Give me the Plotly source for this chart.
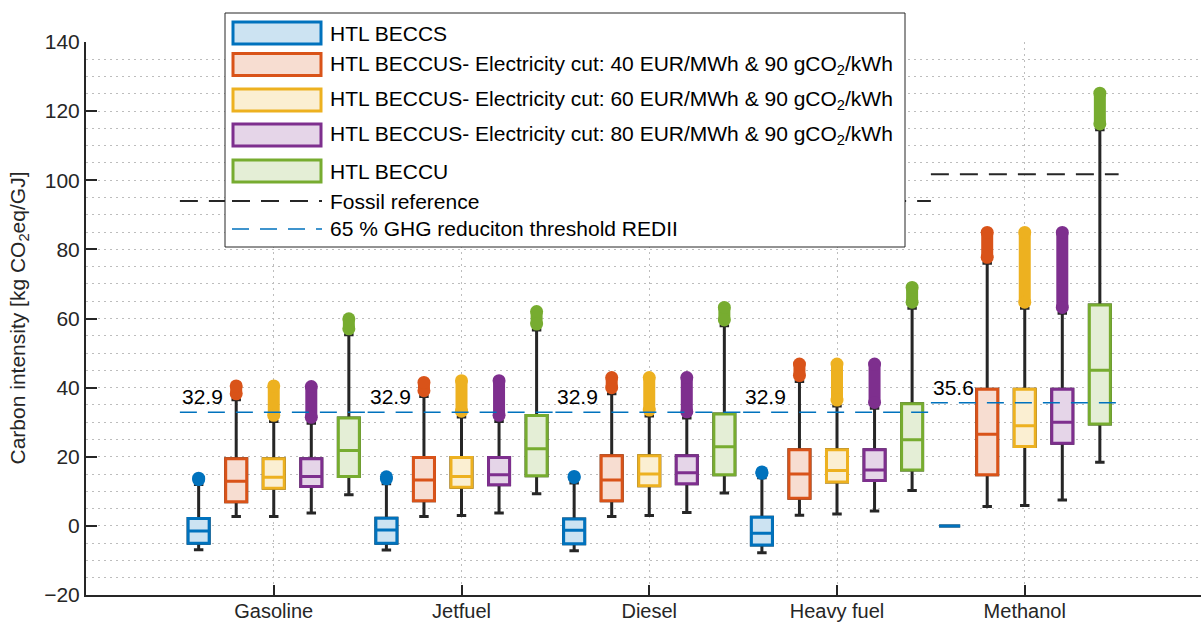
import plotly.graph_objects as go

# ---------------- data ----------------
categories = ["Gasoline", "Jetfuel", "Diesel", "Heavy fuel", "Methanol"]

series_names = [
    "HTL BECCS",
    "HTL BECCUS- Electricity cut: 40 EUR/MWh & 90 gCO<sub>2</sub>/kWh",
    "HTL BECCUS- Electricity cut: 60 EUR/MWh & 90 gCO<sub>2</sub>/kWh",
    "HTL BECCUS- Electricity cut: 80 EUR/MWh & 90 gCO<sub>2</sub>/kWh",
    "HTL BECCU",
]

# per series: values for [Gasoline, Jetfuel, Diesel, Heavy fuel, Methanol]
beccs_lf  = [-6.9, -7.0, -7.2, -7.8, 0.0]
beccs_q1  = [-5.0, -5.0, -5.2, -5.5, 0.0]
beccs_med = [-1.5, -1.2, -1.3, -2.1, 0.0]
beccs_q3  = [2.1, 2.2, 2.0, 2.5, 0.0]
beccs_uf  = [12.0, 12.2, 12.4, 13.9, 0.0]
beccs_out_lo = [13.4, 13.6, 14.0, 15.2, None]
beccs_out_hi = [13.8, 14.2, 14.3, 15.6, None]

e40_lf  = [2.7, 2.7, 2.7, 3.1, 5.6]
e40_q1  = [7.0, 7.3, 7.3, 8.0, 14.8]
e40_med = [12.9, 13.3, 13.3, 15.0, 26.5]
e40_q3  = [19.4, 19.8, 20.3, 22.0, 39.5]
e40_uf  = [36.5, 37.4, 38.2, 41.8, 76.0]
e40_out_lo = [38.2, 39.1, 40.0, 43.5, 77.7]
e40_out_hi = [40.5, 41.5, 42.9, 46.8, 84.9]

e60_lf  = [2.7, 3.0, 3.0, 3.4, 5.9]
e60_q1  = [10.9, 11.2, 11.6, 12.7, 23.0]
e60_med = [14.1, 14.3, 15.0, 16.0, 29.0]
e60_q3  = [19.4, 19.8, 20.3, 22.0, 39.5]
e60_uf  = [30.2, 31.5, 31.8, 34.7, 63.0]
e60_out_lo = [32.0, 33.2, 33.5, 36.4, 64.7]
e60_out_hi = [40.5, 42.0, 42.9, 46.8, 84.9]

e80_lf  = [3.7, 3.7, 3.9, 4.3, 7.5]
e80_q1  = [11.4, 11.9, 12.2, 13.1, 23.9]
e80_med = [14.3, 14.8, 15.4, 16.2, 30.0]
e80_q3  = [19.4, 19.8, 20.3, 22.0, 39.5]
e80_uf  = [29.7, 30.2, 31.2, 34.0, 61.5]
e80_out_lo = [31.4, 32.0, 33.0, 35.7, 63.2]
e80_out_hi = [40.3, 42.0, 42.9, 46.8, 84.9]

beccu_lf  = [9.0, 9.3, 9.5, 10.2, 18.4]
beccu_q1  = [14.3, 14.5, 14.8, 16.2, 29.5]
beccu_med = [21.8, 22.3, 22.9, 24.9, 45.0]
beccu_q3  = [31.2, 31.9, 32.4, 35.3, 63.9]
beccu_uf  = [55.3, 56.7, 57.9, 63.0, 114.6]
beccu_out_lo = [57.0, 58.4, 59.6, 64.7, 116.3]
beccu_out_hi = [59.9, 62.0, 63.2, 69.0, 125.2]

fossil_ref = [94.0, 94.0, 94.0, 94.0, 101.7]
threshold = [32.9, 32.9, 32.9, 32.9, 35.6]
threshold_labels = ["32.9", "32.9", "32.9", "32.9", "35.6"]

y_ticks = [-20, 0, 20, 40, 60, 80, 100, 120, 140]

# ---------------- styling ----------------
colors = ["#0072BD", "#D95319", "#EDB120", "#7E2F8E", "#77AC30"]
fills = ["#CCE3F2", "#F7DDD1", "#FBEFD2", "#E5D5E8", "#E4EED6"]
offsets = [-0.4, -0.2, 0.0, 0.2, 0.4]
BOXW = 0.112
DARK = "#262626"
GRID = "#bdbdbd"
GDASH = "2px,4px"
FONT = "Liberation Sans, Arial, sans-serif"
FS = 21

stats = [
    (beccs_lf, beccs_q1, beccs_med, beccs_q3, beccs_uf, beccs_out_lo, beccs_out_hi),
    (e40_lf, e40_q1, e40_med, e40_q3, e40_uf, e40_out_lo, e40_out_hi),
    (e60_lf, e60_q1, e60_med, e60_q3, e60_uf, e60_out_lo, e60_out_hi),
    (e80_lf, e80_q1, e80_med, e80_q3, e80_uf, e80_out_lo, e80_out_hi),
    (beccu_lf, beccu_q1, beccu_med, beccu_q3, beccu_uf, beccu_out_lo, beccu_out_hi),
]

cat_pos = [i + 1 for i in range(len(categories))]

fig = go.Figure()

# outlier clouds
for s, (lf, q1, med, q3, uf, olo, ohi) in enumerate(stats):
    xs, ys = [], []
    for g, p in enumerate(cat_pos):
        if olo[g] is None:
            continue
        xs += [p + offsets[s], p + offsets[s], None]
        ys += [olo[g], ohi[g], None]
    fig.add_trace(go.Scatter(
        x=xs, y=ys, mode="lines+markers",
        line=dict(color=colors[s], width=12),
        marker=dict(color=colors[s], size=13),
        showlegend=False, hoverinfo="skip"))

# whisker boxes (dark)
for s, (lf, q1, med, q3, uf, olo, ohi) in enumerate(stats):
    fig.add_trace(go.Box(
        x=[p + offsets[s] for p in cat_pos],
        lowerfence=lf, q1=q1, median=med, q3=q3, upperfence=uf,
        width=BOXW, whiskerwidth=0.45,
        line=dict(color=DARK, width=3),
        fillcolor="rgba(0,0,0,0)", boxpoints=False,
        showlegend=False, hoverinfo="skip"))

# coloured boxes on top
for s, (lf, q1, med, q3, uf, olo, ohi) in enumerate(stats):
    fig.add_trace(go.Box(
        x=[p + offsets[s] for p in cat_pos],
        lowerfence=q1, q1=q1, median=med, q3=q3, upperfence=q3,
        width=BOXW, whiskerwidth=0,
        line=dict(color=colors[s], width=3),
        fillcolor=fills[s], boxpoints=False,
        name=series_names[s], showlegend=False, hoverinfo="skip"))

# reference lines per group
fx, fy, tx, ty = [], [], [], []
for g, p in enumerate(cat_pos):
    fx += [p - 0.5, p + 0.5, None]
    fy += [fossil_ref[g], fossil_ref[g], None]
    tx += [p - 0.5, p + 0.5, None]
    ty += [threshold[g], threshold[g], None]
fig.add_trace(go.Scatter(x=fx, y=fy, mode="lines",
                         line=dict(color=DARK, width=2, dash="18px,11px"),
                         showlegend=False, hoverinfo="skip"))
fig.add_trace(go.Scatter(x=tx, y=ty, mode="lines",
                         line=dict(color="#0072BD", width=1.5, dash="17px,11px"),
                         showlegend=False, hoverinfo="skip"))

for g, p in enumerate(cat_pos):
    fig.add_annotation(x=p - 0.5, y=threshold[g], xref="x", yref="y",
                       text=threshold_labels[g], showarrow=False,
                       xanchor="left", yanchor="bottom", yshift=2,
                       font=dict(family=FONT, size=FS, color="#000000"))

# ---------------- custom legend (pixel placement) ----------------
L, R, T, B = 86, 1201, 42, 595
W, H = R - L, B - T


def px(xp):
    return (xp - L) / W


def py(yp):
    return (B - yp) / H


shapes = []
shapes.append(dict(type="rect", xref="paper", yref="paper",
                   x0=px(225), x1=px(905), y0=py(247), y1=py(13),
                   fillcolor="white", line=dict(color=DARK, width=1), layer="above"))
row_y = [33, 64.5, 100, 135, 171]
for s in range(5):
    shapes.append(dict(type="rect", xref="paper", yref="paper",
                       x0=px(233), x1=px(321), y0=py(row_y[s] + 11), y1=py(row_y[s] - 11),
                       fillcolor=fills[s], line=dict(color=colors[s], width=3), layer="above"))
    fig.add_annotation(xref="paper", yref="paper", x=px(328), y=py(row_y[s]),
                       text=series_names[s], showarrow=False, xanchor="left",
                       yanchor="middle", font=dict(family=FONT, size=FS, color="#000000"))
shapes.append(dict(type="line", xref="paper", yref="paper",
                   x0=px(232), x1=px(322), y0=py(201), y1=py(201),
                   line=dict(color=DARK, width=2, dash="18px,11px"), layer="above"))
shapes.append(dict(type="line", xref="paper", yref="paper",
                   x0=px(232), x1=px(322), y0=py(229), y1=py(229),
                   line=dict(color="#0072BD", width=1.5, dash="17px,11px"), layer="above"))
fig.add_annotation(xref="paper", yref="paper", x=px(328), y=py(201),
                   text="Fossil reference", showarrow=False, xanchor="left",
                   yanchor="middle", font=dict(family=FONT, size=FS, color="#000000"))
fig.add_annotation(xref="paper", yref="paper", x=px(328), y=py(229),
                   text="65 % GHG reduciton threshold REDII", showarrow=False, xanchor="left",
                   yanchor="middle", font=dict(family=FONT, size=FS, color="#000000"))

# y-axis title
fig.add_annotation(xref="paper", yref="paper", x=px(18), y=0.5,
                   text="Carbon intensity [kg CO<sub>2</sub>eq/GJ]", showarrow=False,
                   textangle=-90, xanchor="center", yanchor="middle",
                   font=dict(family=FONT, size=FS, color=DARK))

fig.update_layout(
    template="none",
    width=1201, height=622,
    margin=dict(l=L, r=1201 - R, t=T, b=622 - B, pad=0),
    paper_bgcolor="white", plot_bgcolor="white",
    boxmode="overlay",
    showlegend=False,
    shapes=shapes,
    font=dict(family=FONT, size=FS, color=DARK),
    xaxis=dict(range=[0, (R - L) / 187.75], tickmode="array",
               tickvals=cat_pos, ticktext=categories,
               showline=True, linecolor=DARK, linewidth=2,
               ticks="inside", ticklen=10, tickwidth=2, tickcolor=DARK,
               ticklabelstandoff=-3,
               showgrid=True, gridcolor=GRID, griddash=GDASH, gridwidth=1,
               zeroline=False, tickfont=dict(family=FONT, size=20, color=DARK)),
    yaxis=dict(range=[-20, 140], tickmode="array", tickvals=y_ticks,
               showline=True, linecolor=DARK, linewidth=2,
               ticks="inside", ticklen=11, tickwidth=2, tickcolor=DARK,
               showgrid=True, gridcolor=GRID, griddash=GDASH, gridwidth=1,
               minor=dict(dtick=5, showgrid=True, gridcolor=GRID,
                          griddash=GDASH, gridwidth=1, ticks=""),
               zeroline=False, tickfont=dict(family=FONT, size=FS, color=DARK)),
)

fig.write_html("out.html")
